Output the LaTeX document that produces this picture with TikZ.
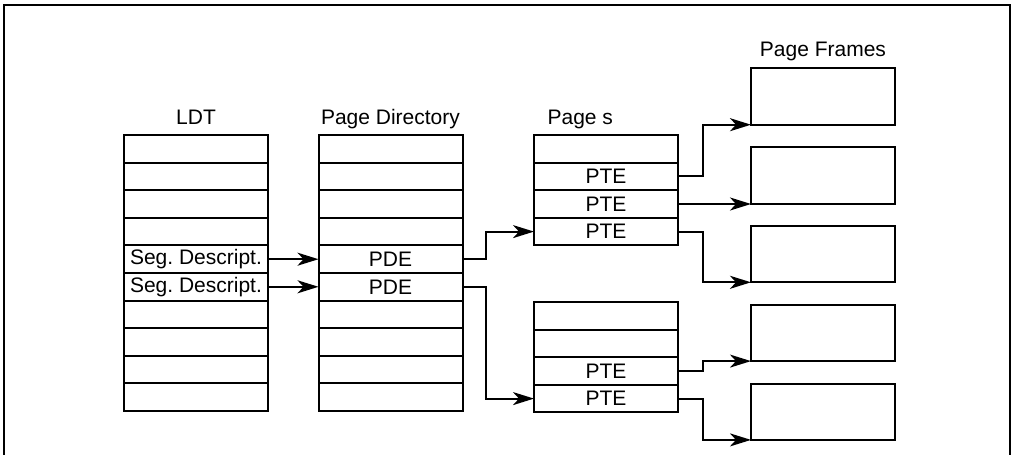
\documentclass[tikz,border=0pt]{standalone}
\usepackage{fontspec}
\setmainfont{Liberation Sans}
\usetikzlibrary{arrows.meta,positioning}
\frenchspacing

\tikzset{
  cell/.style={draw, line width=1pt, minimum width=72pt, minimum height=13.8pt,
               inner sep=0pt, outer sep=0pt, font=\fontsize{10.5pt}{12pt}\selectfont},
  frame/.style={draw, line width=1pt, minimum width=72pt, minimum height=28.2pt,
                inner sep=0pt, outer sep=0pt},
  title/.style={inner sep=0pt, anchor=base, font=\fontsize{10.5pt}{12pt}\selectfont},
  link/.style={->, line width=1pt}
}

\begin{document}
\begin{tikzpicture}[>={Stealth[length=10.5pt,width=6.5pt,inset=3pt]},node distance=13.8pt]
  \useasboundingbox (0,0) rectangle (507pt,-227.5pt);
  \draw[line width=1.2pt] (2pt,-235pt) |- (505pt,-2.5pt) -- (505pt,-235pt);

  % LDT
  \node[cell] (l1) at (98pt,-74.4pt) {};
  \node[cell] (l2) [below of=l1] {};
  \node[cell] (l3) [below of=l2] {};
  \node[cell] (l4) [below of=l3] {};
  \node[cell] (l5) [below of=l4] {Seg. Descript.};
  \node[cell] (l6) [below of=l5] {Seg. Descript.};
  \node[cell] (l7) [below of=l6] {};
  \node[cell] (l8) [below of=l7] {};
  \node[cell] (l9) [below of=l8] {};
  \node[cell] (l10) [below of=l9] {};

  % page directory
  \node[cell] (d1) [right of=l1, node distance=97.25pt] {};
  \node[cell] (d2) [below of=d1] {};
  \node[cell] (d3) [below of=d2] {};
  \node[cell] (d4) [below of=d3] {};
  \node[cell] (d5) [below of=d4] {PDE};
  \node[cell] (d6) [below of=d5] {PDE};
  \node[cell] (d7) [below of=d6] {};
  \node[cell] (d8) [below of=d7] {};
  \node[cell] (d9) [below of=d8] {};
  \node[cell] (d10) [below of=d9] {};

  % page tables
  \node[cell] (t1) [right of=d1, node distance=107.75pt] {};
  \node[cell] (t2) [below of=t1] {PTE};
  \node[cell] (t3) [below of=t2] {PTE};
  \node[cell] (t4) [below of=t3] {PTE};
  \node[cell] (u1) [below of=t1, node distance=83.5pt] {};
  \node[cell] (u2) [below of=u1] {};
  \node[cell] (u3) [below of=u2] {PTE};
  \node[cell] (u4) [below of=u3] {PTE};

  % page frames
  \node[frame] (f1) at (411.5pt,-48.25pt) {};
  \node[frame] (f2) [below of=f1, node distance=39.4pt] {};
  \node[frame] (f3) [below of=f2, node distance=39.4pt] {};
  \node[frame] (f4) [below of=f3, node distance=39.4pt] {};
  \node[frame] (f5) [below of=f4, node distance=39.4pt] {};

  \node[title] (ldtname) at ([yshift=5pt]l1.north) {LDT};
  \node[title] (dirname) at ([yshift=5pt]d1.north) {Page Directory};
  \node[title, anchor=base west] (ptname) at ([xshift=6.6pt,yshift=5.3pt]t1.north west) {Page s};
  \node[title] (pfname) at ([yshift=6pt]f1.north) {Page Frames};

  \draw[link] (l5) -- (d5);
  \draw[link] (l6) -- (d6);
  \draw[link] (d5.east) -- ++(11.5pt,0) |- (t4.west);
  \draw[link] (d6.east) -- ++(11.5pt,0) |- (u4.west);
  \draw[link] (t2.east) -- ++(12.3pt,0) |- (f1.south west);
  \draw[link] (t3.east) -- (t3.east -| f2.west);
  \draw[link] (t4.east) -- ++(12.3pt,0) |- (f3.south west);
  \draw[link] (u3.east) -- ++(12.3pt,0) |- (f4.south west);
  \draw[link] (u4.east) -- ++(12.3pt,0) |- (f5.south west);
\end{tikzpicture}
\end{document}
